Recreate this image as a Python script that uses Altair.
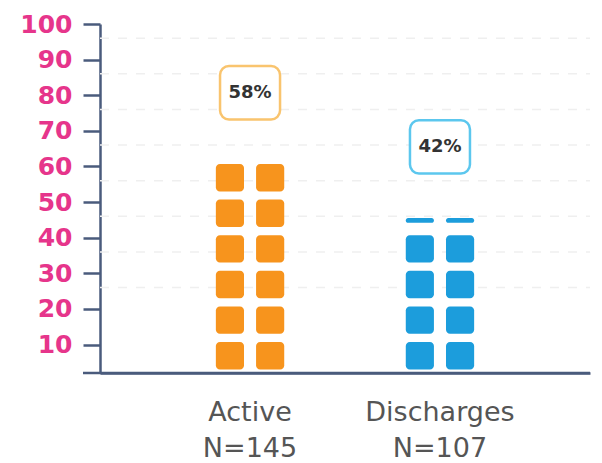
import altair as alt
import pandas as pd

# ---- data ----
categories = ["Active", "Discharges"]
n_values = [145, 107]
percents = [58, 42]
full_blocks = [6, 4]          # full squares per column
partial_block = [None, (44.2, 45.5)]   # thin top sliver (Discharges)
bar_colors = ["#F7941D", "#1C9DDC"]
box_colors = ["#F9C46E", "#5CC7EE"]
y_ticks = [10, 20, 30, 40, 50, 60, 70, 80, 90, 100]
grid_values = [26, 36, 46, 56, 66, 76, 86, 96]

labels = [f"{c}|N={n}" for c, n in zip(categories, n_values)]

# squares (each square = 10 points, drawn with a small gap)
sq_rows = []
stack_top = []
for lab, nb, part, col in zip(labels, full_blocks, partial_block, bar_colors):
    top = 0
    for i in range(nb):
        for side in ["L", "R"]:
            sq_rows.append({"label": lab, "side": side, "lo": 10 * i + 3, "hi": 10 * i + 10.7, "color": col})
        top = 10 * i + 10.7
    if part is not None:
        for side in ["L", "R"]:
            sq_rows.append({"label": lab, "side": side, "lo": part[0], "hi": part[1], "color": col})
        top = part[1]
    stack_top.append(top)
squares = pd.DataFrame(sq_rows)

boxes = pd.DataFrame({
    "label": labels,
    "pct": [f"{p}%" for p in percents],
    "lo": [t + 12.5 for t in stack_top],
    "hi": [t + 27.5 for t in stack_top],
    "mid": [t + 20 for t in stack_top],
    "stroke": box_colors,
})

grid = pd.DataFrame({"v": grid_values})
ticks_df = pd.DataFrame({"v": y_ticks})

W, H = 490, 349
axis_col = "#4A5B7C"

x_enc = alt.X(
    "label:N",
    scale=alt.Scale(domain=labels, paddingInner=0.64, paddingOuter=0.61),
    axis=alt.Axis(
        title=None,
        labelExpr="split(datum.label, '|')",
        labelFont="DejaVu Sans",
        labelFontSize=27,
        labelColor="#555555",
        labelLineHeight=36,
        labelPadding=26,
        labelAngle=0,
        ticks=False,
        domainColor=axis_col,
        domainWidth=2.5,
        grid=False,
    ),
)

y_scale = alt.Scale(domain=[2, 100], nice=False, zero=False)

y_axis = alt.Axis(
    title=None,
    values=y_ticks,
    labelFont="DejaVu Sans",
    labelFontWeight="bold",
    labelFontSize=25,
    labelColor="#E6358B",
    labelPadding=11,
    labelOverlap=False,
    labelBound=False,
    labelFlush=False,
    tickSize=17,
    tickWidth=2.5,
    tickColor=axis_col,
    domainColor=axis_col,
    domainWidth=2.5,
    grid=False,
)

gridlines = alt.Chart(grid).mark_rule(
    color="#efefef", strokeDash=[9, 9], strokeWidth=1.5
).encode(y=alt.Y("v:Q", scale=y_scale, axis=y_axis), x=alt.value(0), x2=alt.value(W))

sq = alt.Chart(squares).mark_rect(cornerRadius=4).encode(
    x=x_enc,
    xOffset=alt.XOffset("side:N", scale=alt.Scale(domain=["L", "R"], paddingInner=0.3, paddingOuter=0)),
    y=alt.Y("lo:Q", scale=y_scale, axis=y_axis),
    y2="hi:Q",
    color=alt.Color("color:N", scale=None),
)

box = alt.Chart(boxes).mark_bar(
    width=60, cornerRadius=9, fill="white", strokeWidth=2.5
).encode(
    x=alt.X("label:N", scale=alt.Scale(domain=labels)),
    y=alt.Y("lo:Q", scale=y_scale, axis=y_axis),
    y2="hi:Q",
    stroke=alt.Stroke("stroke:N", scale=None),
)

box_text = alt.Chart(boxes).mark_text(
    font="DejaVu Sans", fontWeight="bold", fontSize=18, color="#333333", baseline="middle"
).encode(
    x=alt.X("label:N", scale=alt.Scale(domain=labels)),
    y=alt.Y("mid:Q", scale=y_scale, axis=y_axis),
    text="pct:N",
)

xline = alt.Chart(pd.DataFrame({"v": [2]})).mark_rule(color=axis_col, strokeWidth=2.5).encode(
    y=alt.Y("v:Q", scale=y_scale, axis=y_axis), x=alt.value(-17), x2=alt.value(W)
)

chart = alt.layer(gridlines, xline, sq, box, box_text).properties(
    width=W,
    height=H,
    autosize=alt.AutoSizeParams(type="none"),
    padding={"left": 100, "top": 24, "right": 12, "bottom": 90},
    background="white",
).configure_view(stroke=None)

chart.save("out.html", embed_options={"renderer": "svg", "actions": False})
